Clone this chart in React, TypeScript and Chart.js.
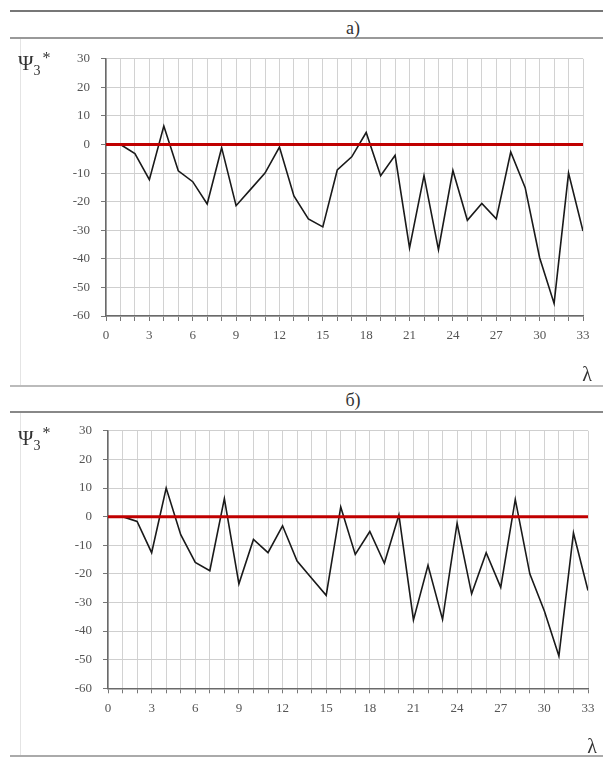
import React, { useEffect, useRef } from "react";
import { Chart, registerables } from "chart.js";

Chart.register(...registerables);

const lambdaValues = [
  1, 2, 3, 4, 5, 6, 7, 8, 9, 10, 11, 12, 13, 14, 15, 16, 17, 18, 19, 20, 21, 22,
  23, 24, 25, 26, 27, 28, 29, 30, 31, 32, 33,
];
const psiA = [
  0, -3.2, -12.3, 6.5, -9.2, -13, -20.8, -1.1, -21.4, -15.7, -10, -0.9, -18, -26,
  -28.8, -8.9, -4.3, 4.2, -10.9, -3.8, -36.2, -10.9, -36.8, -9.1, -26.5, -20.6,
  -26, -2.6, -15.1, -39.6, -55.6, -10, -30.3,
];
const psiB = [
  0, -1.7, -12.6, 10, -6.3, -16, -18.9, 6.3, -23.5, -8, -12.6, -3.2, -15.5, -21.5,
  -27.5, 3.4, -13.2, -5.2, -16.3, 0.6, -36.1, -17, -35.9, -2.3, -27, -12.6, -24.7,
  6, -20, -33, -48.7, -5.7, -25.8,
];
const zeroLineX = [0, 33];
const zeroLineY = [0, 0];
const xMin = 0;
const xMax = 33;
const yMin = -60;
const yMax = 30;
const panelTitles = ["а)", "б)"];

const SERIF = '"Liberation Serif", "DejaVu Serif", serif';

type PanelProps = {
  values: number[];
  top: number;
  padTop: number;
  left: number;
  right: number;
  xAxisH: number;
};

function Panel({ values, top, padTop, left, right, xAxisH }: PanelProps) {
  const ref = useRef<HTMLCanvasElement | null>(null);
  useEffect(() => {
    if (!ref.current) return;
    const chart = new Chart(ref.current, {
      type: "line",
      data: {
        datasets: [
          {
            data: lambdaValues.map((x, i) => ({ x, y: values[i] })),
            borderColor: "#1a1a1a",
            borderWidth: 1.6,
            pointRadius: 0,
            tension: 0,
            order: 2,
          },
          {
            data: zeroLineX.map((x, i) => ({ x, y: zeroLineY[i] })),
            borderColor: "#c00000",
            borderWidth: 3,
            pointRadius: 0,
            tension: 0,
            order: 1,
          },
        ],
      },
      options: {
        animation: false,
        responsive: false,
        events: [],
        layout: {
          padding: { left: left - 60, right: 603 - right, top: padTop, bottom: 0 },
        },
        plugins: { legend: { display: false }, tooltip: { enabled: false } },
        scales: {
          x: {
            type: "linear",
            min: xMin,
            max: xMax,
            afterFit: (s: any) => {
              s.height = xAxisH;
            },
            ticks: {
              stepSize: 1,
              autoSkip: false,
              maxRotation: 0,
              padding: 7,
              color: "#555",
              font: { family: SERIF, size: 13 },
              callback: (v: any) => (Number(v) % 3 === 0 ? String(v) : ""),
            },
            grid: {
              color: "#d2d2d2",
              lineWidth: 1,
              tickLength: 5,
              tickColor: "#777",
            },
            border: { color: "#6a6a6a", width: 1.5 },
          },
          y: {
            min: yMin,
            max: yMax,
            afterFit: (s: any) => {
              s.width = 60;
            },
            ticks: {
              stepSize: 10,
              padding: 11,
              color: "#555",
              font: { family: SERIF, size: 13 },
            },
            grid: {
              color: "#cfcfcf",
              lineWidth: 1,
              tickLength: 5,
              tickColor: "#777",
            },
            border: { color: "#6a6a6a", width: 1.5 },
          },
        },
      },
    });
    return () => chart.destroy();
  }, [values, padTop, left, right, xAxisH]);
  return (
    <canvas
      ref={ref}
      width={603}
      height={340}
      style={{ position: "absolute", left: 0, top, width: 603, height: 340, display: "block" }}
    />
  );
}

function HLine({ y, color, w }: { y: number; color: string; w: number }) {
  return (
    <div
      style={{
        position: "absolute",
        left: 10,
        width: 593,
        top: y - w / 2,
        height: w,
        background: color,
      }}
    />
  );
}

function PsiLabel({ top }: { top: number }) {
  return (
    <div
      style={{
        position: "absolute",
        left: 18,
        top,
        fontFamily: SERIF,
        fontSize: 21,
        color: "#333",
        lineHeight: 1,
      }}
    >
      Ψ
      <span style={{ fontSize: 14, position: "relative", top: 5 }}>3</span>
      <span style={{ fontSize: 16, position: "relative", top: -7, marginLeft: 2 }}>*</span>
    </div>
  );
}

function Title({ y, text }: { y: number; text: string }) {
  return (
    <div
      style={{
        position: "absolute",
        left: 303,
        width: 100,
        top: y - 10,
        textAlign: "center",
        fontFamily: SERIF,
        fontSize: 18,
        color: "#333",
        lineHeight: "20px",
      }}
    >
      {text}
    </div>
  );
}

function Lambda({ x, y }: { x: number; y: number }) {
  return (
    <div
      style={{
        position: "absolute",
        left: x - 10,
        width: 20,
        top: y - 11,
        textAlign: "center",
        fontFamily: SERIF,
        fontSize: 20,
        color: "#333",
        lineHeight: "22px",
      }}
    >
      λ
    </div>
  );
}

export default function App() {
  return (
    <div
      style={{
        position: "absolute",
        left: 0,
        top: 0,
        width: 603,
        height: 758,
        background: "#fff",
        overflow: "hidden",
      }}
    >
      <div style={{ position: "absolute", left: 20, top: 38, width: 1, height: 348, background: "#e4e4e4" }} />
      <div style={{ position: "absolute", left: 20, top: 412, width: 1, height: 344, background: "#e4e4e4" }} />
      <HLine y={11} color="#777" w={2} />
      <HLine y={38} color="#999" w={1.5} />
      <HLine y={386} color="#bbb" w={1.5} />
      <HLine y={412} color="#888" w={2} />
      <HLine y={756} color="#aaa" w={1.5} />
      <Title y={28} text={panelTitles[0]} />
      <Title y={400} text={panelTitles[1]} />
      <Panel values={psiA} top={40} padTop={12.7} left={106} right={583} xAxisH={64} />
      <Panel values={psiB} top={412} padTop={14.7} left={108} right={588} xAxisH={63.7} />
      <PsiLabel top={53} />
      <PsiLabel top={428} />
      <Lambda x={587} y={374} />
      <Lambda x={592} y={746} />
    </div>
  );
}
